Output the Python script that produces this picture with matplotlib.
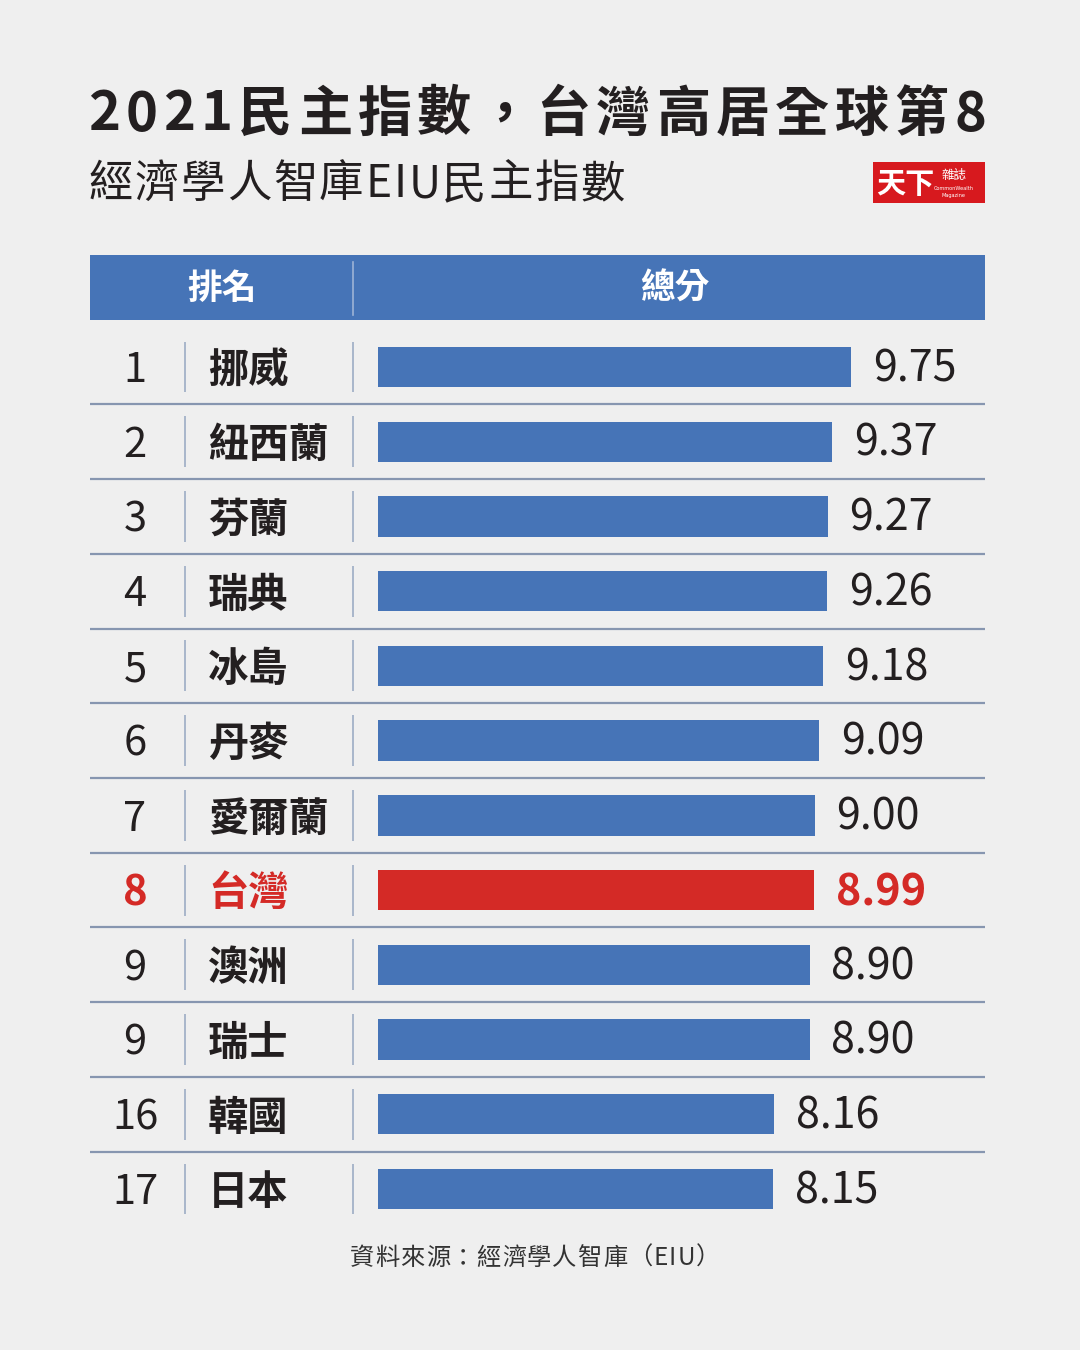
import matplotlib
matplotlib.use("Agg")
import matplotlib.pyplot as plt
from matplotlib.patches import Rectangle
from matplotlib.transforms import blended_transform_factory

plt.rcParams['font.family'] = ['Noto Sans CJK TC', 'DejaVu Sans']

# data
ranks = ["1", "2", "3", "4", "5", "6", "7", "8", "9", "9", "16", "17"]
countries = ["挪威", "紐西蘭", "芬蘭", "瑞典", "冰島", "丹麥", "愛爾蘭", "台灣", "澳洲", "瑞士", "韓國", "日本"]
scores = [9.75, 9.37, 9.27, 9.26, 9.18, 9.09, 9.00, 8.99, 8.90, 8.90, 8.16, 8.15]
highlight = "台灣"

title = "2021民主指數，台灣高居全球第8"
subtitle = "經濟學人智庫EIU民主指數"
header = ["排名", "總分"]
source = "資料來源：經濟學人智庫（EIU）"

BG = "#efefef"
BLUE = "#4674b7"
RED = "#d42a26"
DARK = "#231f20"
LINE = "#8796b0"

W, H = 1080, 1350
def fx(x): return x / W
def fy(y): return 1 - y / H

fig = plt.figure(figsize=(10.8, 13.5), dpi=100, facecolor=BG)
renderer = fig.canvas.get_renderer()


def spaced_text(x0, x1, y, s, **kw):
    # spread the characters of s evenly between pixel x0 and x1
    arts = [fig.text(0, fy(y), ch, ha='left', va='center', **kw) for ch in s]
    widths = [a.get_window_extent(renderer).width for a in arts]
    gap = (x1 - x0 - sum(widths)) / (len(s) - 1)
    x = x0
    for a, w in zip(arts, widths):
        a.set_x(fx(x))
        x += w + gap


# title block
spaced_text(88, 986, 115, title, fontsize=39, weight='bold', color=DARK)
spaced_text(88, 625, 184, subtitle, fontsize=32, weight='light', color=DARK)

# logo
fig.add_artist(Rectangle((fx(873), fy(203)), fx(985) - fx(873), 41 / H,
                         transform=fig.transFigure, color="#d7191e", lw=0))
fig.text(fx(905), fy(184), "天下", fontsize=21, weight='black', color='white', ha='center', va='center')
fig.text(fx(954), fy(175), "雜誌", fontsize=9, color='white', ha='center', va='center')
fig.text(fx(954), fy(188), "CommonWealth", fontsize=3.6, color='white', ha='center', va='center',
         family='DejaVu Sans')
fig.text(fx(954), fy(195), "Magazine", fontsize=3.6, color='white', ha='center', va='center',
         family='DejaVu Sans')

# header bar
fig.add_artist(Rectangle((fx(90), fy(320)), fx(985) - fx(90), 65 / H,
                         transform=fig.transFigure, color=BLUE, lw=0))
fig.add_artist(plt.Line2D([fx(353), fx(353)], [fy(262), fy(315)], transform=fig.transFigure,
                          color="#9db3d6", lw=1.2))
fig.text(fx(222), fy(288), header[0], fontsize=25, weight='bold', color='white', ha='center', va='center')
fig.text(fx(675), fy(288), header[1], fontsize=25, weight='bold', color='white', ha='center', va='center')

# table with bars
n = len(scores)
top, bottom = 329.6, 1226.4
ax = fig.add_axes([fx(90), fy(bottom), fx(985) - fx(90), (bottom - top) / H])
ax.set_facecolor(BG)
px_per_unit = 48.5
ax.set_xlim(-(378 - 90) / px_per_unit, (985 - 378) / px_per_unit)
ax.set_ylim(n - 0.5, -0.5)
ax.axis('off')

colors = [RED if c == highlight else BLUE for c in countries]
ax.barh(range(n), scores, height=0.54, color=colors)

for i in range(n - 1):
    ax.axhline(i + 0.5, color=LINE, lw=1.6)

tr = blended_transform_factory(fig.transFigure, ax.transData)
ax.vlines([fx(185), fx(353)] * n, [i - 0.34 for i in range(n) for _ in (0, 1)],
          [i + 0.34 for i in range(n) for _ in (0, 1)], transform=tr, color="#a9b6cb", lw=1.4)

for i, (r, c, s) in enumerate(zip(ranks, countries, scores)):
    hl = c == highlight
    col = RED if hl else DARK
    ax.text(fx(135), i + 0.05, r, transform=tr, ha='center', va='center', fontsize=30,
            weight='bold' if hl else 'medium', color=col)
    ax.text(fx(208), i + 0.05, c, transform=tr, ha='left', va='center', fontsize=29,
            weight='bold', color=col)
    ax.text(s + 0.45, i + 0.03, f"{s:.2f}", ha='left', va='center', fontsize=31,
            weight='bold' if hl else 'light', color=col)

spaced_text(350, 720, 1258, source, fontsize=17.5, weight='light', color="#333333")

fig.savefig("out.png", dpi=100, facecolor=BG)
